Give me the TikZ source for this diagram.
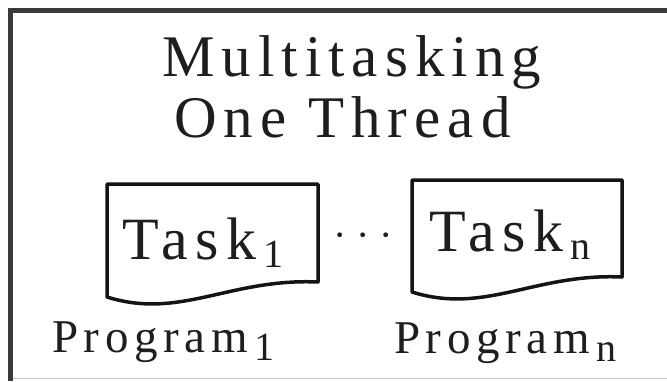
\documentclass[tikz,border=0pt]{standalone}
\usepackage{fontspec}
\setmainfont{Liberation Serif}
\newfontfamily\spaced[LetterSpace=12]{Liberation Serif}
\newfontfamily\dotsfont[LetterSpace=25]{Liberation Serif}
\definecolor{framegray}{HTML}{3A3A3A}
\definecolor{edgegray}{HTML}{C4C4C4}
\definecolor{ink}{HTML}{1E1E1E}
% lowered subscript, set smaller and a little apart
\newcommand\lowsub[1]{\hspace{7pt}\raisebox{-8pt}{\fontsize{40}{40}\selectfont #1}}
\begin{document}
\begin{tikzpicture}[x=1pt,y=-1pt,
  frameline/.style={draw=framegray, line width=5pt},
  edgeline/.style={draw=edgegray, line width=1.5pt},
  docbox/.style={draw=black!92, line width=3.5pt, line join=round},
  lbl/.style={inner sep=0pt, outer sep=0pt, anchor=base west, text=ink},
  titletext/.style={lbl, font=\spaced\fontsize{59}{70}\selectfont},
  tasktext/.style={lbl, font=\spaced\fontsize{60}{70}\selectfont},
  progtext/.style={lbl, font=\spaced\fontsize{47}{56}\selectfont}]
\useasboundingbox (0,0) rectangle (667,381);

% surrounding frame (top and left edges, faint bottom edge)
\draw[frameline] (10.5,381) -- (10.5,10.5) -- (667,10.5);
\draw[edgeline] (13,378.5) -- (667,378.5);

% title
\node[titletext] (title1) at (162,76) {Multitasking};
\node[titletext] (title2) at (174,137) {One Thread};

% document shapes
\draw[docbox] (318,282) -- (318,184) -- (107,184) -- (107,297)
  .. controls (180,320) and (230,278) .. (318,282) -- cycle;
\draw[docbox] (622,277) -- (622,180) -- (412,180) -- (412,292)
  .. controls (485,315) and (535,273) .. (622,277) -- cycle;

% labels
\node[tasktext] (task1) at (122,259) {Task\lowsub{1}};
\node[tasktext] (taskn) at (429,251) {Task\lowsub{n}};
\node[progtext] (prog1) at (52,352) {Program\lowsub{1}};
\node[progtext] (progn) at (394,353) {Program\lowsub{n}};

% ellipsis between the tasks
\node[lbl, font=\dotsfont\fontsize{40}{40}\selectfont] (dots) at (333,248) {···};
\end{tikzpicture}
\end{document}
